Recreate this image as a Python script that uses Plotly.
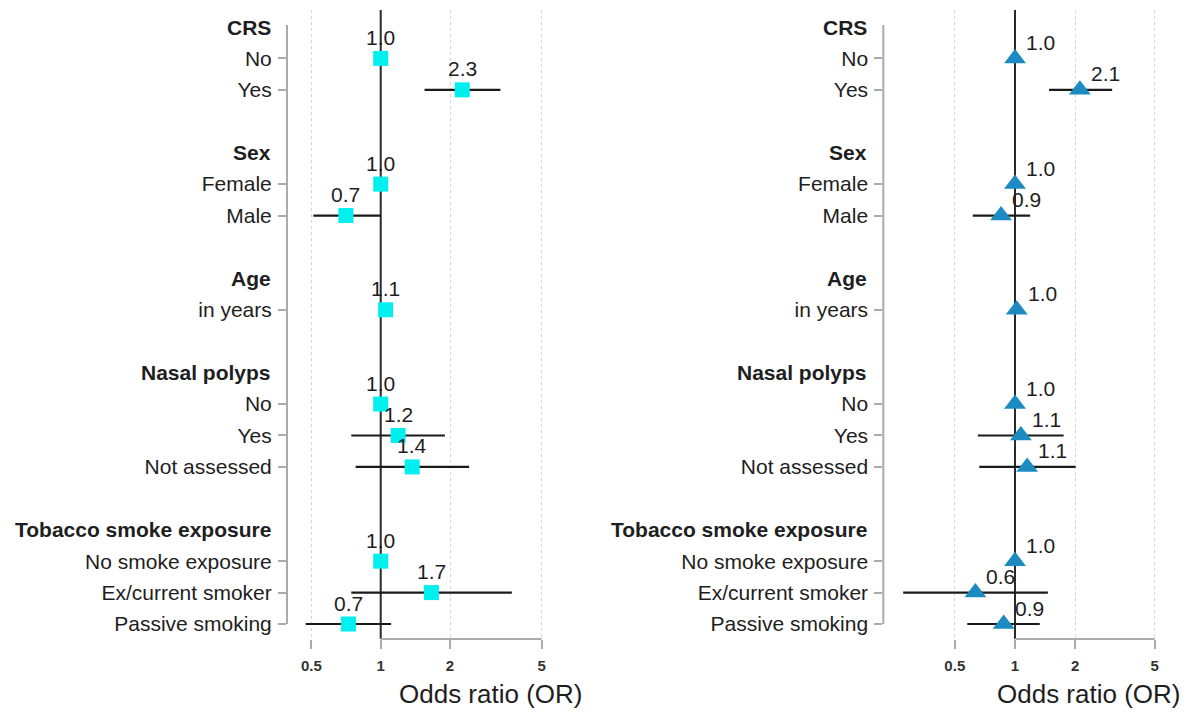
import math
import plotly.graph_objects as go

groups = ["CRS", "Sex", "Age", "Nasal polyps", "Tobacco smoke exposure"]
levels = [["No", "Yes"], ["Female", "Male"], ["in years"],
          ["No", "Yes", "Not assessed"],
          ["No smoke exposure", "Ex/current smoker", "Passive smoking"]]

left_or = [1.0, 2.26, 1.0, 0.706, 1.05, 1.0, 1.19, 1.37, 1.0, 1.66, 0.724]
left_lo = [None, 1.55, None, 0.51, None, None, 0.745, 0.778, None, 0.745, 0.472]
left_hi = [None, 3.31, None, 1.0, None, None, 1.90, 2.42, None, 3.71, 1.11]
left_lbl = ["1.0", "2.3", "1.0", "0.7", "1.1", "1.0", "1.2", "1.4", "1.0", "1.7", "0.7"]

right_or = [1.0, 2.11, 1.0, 0.852, 1.02, 1.0, 1.07, 1.15, 1.0, 0.634, 0.878]
right_lo = [None, 1.48, None, 0.615, None, None, 0.652, 0.663, None, 0.276, 0.577]
right_hi = [None, 3.06, None, 1.19, None, None, 1.75, 2.01, None, 1.46, 1.33]
right_lbl = ["1.0", "2.1", "1.0", "0.9", "1.0", "1.0", "1.1", "1.1", "1.0", "0.6", "0.9"]

x_ticks = [0.5, 1, 2, 5]
ref_value = 1
x_title = "Odds ratio (OR)"

# page geometry (body has an 8px margin)
OFF = 8
W, H = 1185, 708

def px(x):
    return (x - OFF) / W

def py(y):
    return (H - (y - OFF)) / H

FONT = "Liberation Sans, Arial, sans-serif"
TXT = "#1e1e1e"
GRID = "#d4d4d4"
AX = "#ababab"

# row layout
header_rows, item_rows, item_text = [], [], []
r = 0
for g, lv in zip(groups, levels):
    header_rows.append(r)
    for i, l in enumerate(lv):
        item_rows.append(r + 1 + i)
        item_text.append(l)
    r += len(lv) + 2
last_row = item_rows[-1]

ydom = [py(639), py(10)]
yrange = [last_row + 0.477, -0.541]

panels = [
    dict(xa="x", ya="y", xn="xaxis", yn="yaxis", dom=[px(287), px(560)], rng=[-0.407, 0.7786],
         title_x=px(490.5), orv=left_or, lo=left_lo, hi=left_hi, lbl=left_lbl,
         symbol="square", color="#00f0f0", size=15, lx="center", xs=0, ys=21),
    dict(xa="x2", ya="y2", xn="xaxis2", yn="yaxis2", dom=[px(883.3), px(1175)], rng=[-0.6585, 0.8],
         title_x=px(1088.5), orv=right_or, lo=right_lo, hi=right_hi, lbl=right_lbl,
         symbol="triangle-up", color="#1b8bc2", size=19, lx="left", xs=9, ys=16),
]

fig = go.Figure()
layout = dict(
    width=W, height=H, margin=dict(l=0, r=0, t=0, b=0),
    paper_bgcolor="white", plot_bgcolor="white",
    font=dict(family=FONT, size=21, color=TXT),
    shapes=[], annotations=[],
)

for p in panels:
    # reference line at OR = 1 (drawn as a trace so it sits above grid, below markers)
    fig.add_trace(go.Scatter(
        x=[ref_value, ref_value], y=yrange, mode="lines", xaxis=p["xa"], yaxis=p["ya"],
        line=dict(color="#2a2a2a", width=2), hoverinfo="skip", showlegend=False))
    plus = [(h - o) if h is not None else 0 for o, h in zip(p["orv"], p["hi"])]
    minus = [(o - l) if l is not None else 0 for o, l in zip(p["orv"], p["lo"])]
    fig.add_trace(go.Scatter(
        x=p["orv"], y=item_rows, mode="markers", xaxis=p["xa"], yaxis=p["ya"],
        marker=dict(symbol=p["symbol"], color=p["color"], size=p["size"], line=dict(width=0)),
        error_x=dict(type="data", symmetric=False, array=plus, arrayminus=minus,
                     width=0, thickness=2.2, color="#1a1a1a"),
        showlegend=False, cliponaxis=False))

    layout[p["xn"]] = dict(
        type="log", domain=p["dom"], range=p["rng"], anchor=p["ya"],
        tickvals=x_ticks, ticktext=[str(t) for t in x_ticks],
        showgrid=True, gridcolor=GRID, griddash="dot", gridwidth=1.2,
        zeroline=False, showline=False,
        ticks="outside", ticklen=9, tickwidth=2, tickcolor=AX,
        ticklabelstandoff=4,
        tickfont=dict(family=FONT, size=15, color="#333333", weight="bold"),
    )
    layout[p["yn"]] = dict(
        domain=ydom, range=yrange, anchor=p["xa"],
        tickvals=item_rows, ticktext=item_text,
        showgrid=False, zeroline=False, showline=False,
        ticks="outside", ticklen=8, tickwidth=2, tickcolor=AX,
        ticklabelstandoff=2,
        tickfont=dict(family=FONT, size=21, color=TXT),
    )
    xd = p["xa"] + " domain"
    layout["shapes"].append(dict(type="line", xref=xd, yref=p["ya"], x0=0, x1=0,
                                 y0=header_rows[0] - 0.06, y1=last_row,
                                 line=dict(color=AX, width=2)))
    layout["shapes"].append(dict(type="line", xref=p["xa"], yref=p["ya"] + " domain",
                                 x0=ref_value, x1=x_ticks[-1], y0=0, y1=0,
                                 line=dict(color=AX, width=2)))
    for g, hr in zip(groups, header_rows):
        layout["annotations"].append(dict(
            x=0, y=hr, xref=xd, yref=p["ya"], text="<b>" + g + "</b>",
            xanchor="right", yanchor="middle", xshift=-14, showarrow=False,
            font=dict(family=FONT, size=21, color=TXT)))
    for o, t, yr in zip(p["orv"], p["lbl"], item_rows):
        layout["annotations"].append(dict(
            x=math.log10(o), y=yr, xref=p["xa"], yref=p["ya"], text=t,
            xanchor=p["lx"], yanchor="middle", xshift=p["xs"], yshift=p["ys"],
            showarrow=False, font=dict(family=FONT, size=21, color=TXT)))
    layout["annotations"].append(dict(
        x=p["title_x"], y=py(694), xref="paper", yref="paper", text=x_title,
        xanchor="center", yanchor="middle", showarrow=False,
        font=dict(family=FONT, size=26, color=TXT)))

fig.update_layout(**layout)
fig.write_html("out.html")
